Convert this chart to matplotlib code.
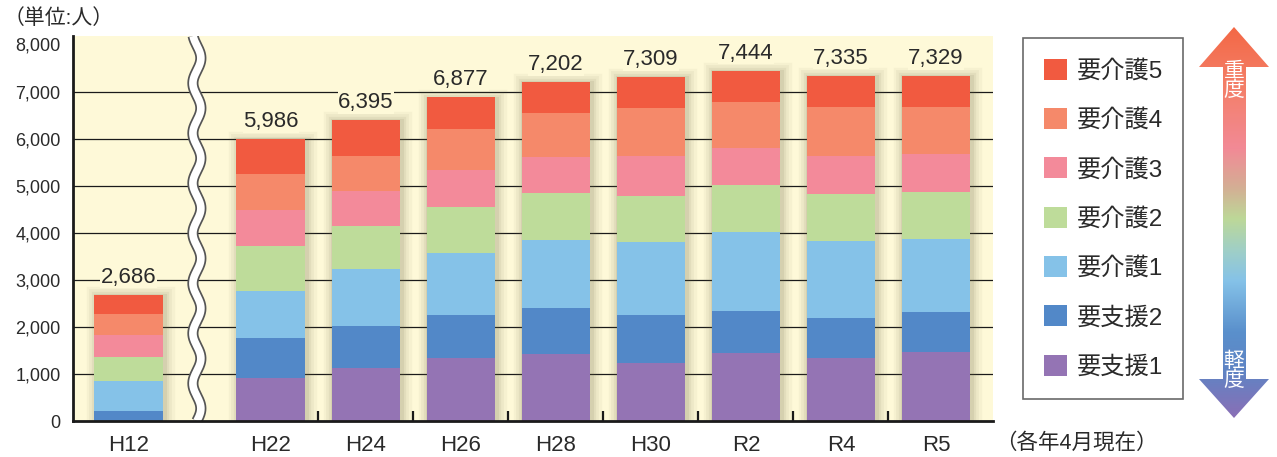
import numpy as np
import matplotlib
matplotlib.use('Agg')
import matplotlib.pyplot as plt
from matplotlib import font_manager
from matplotlib.patches import Polygon, Patch
from matplotlib.transforms import blended_transform_factory

plt.rcParams['font.family'] = ['Liberation Sans', 'Noto Sans CJK JP', 'DejaVu Sans']
installed = {f.name for f in font_manager.fontManager.ttflist}
num_font = 'Liberation Sans Narrow' if 'Liberation Sans Narrow' in installed else 'Liberation Sans'

# 要介護（要支援）認定者数
years = ['H12', 'H22', 'H24', 'H26', 'H28', 'H30', 'R2', 'R4', 'R5']
totals = [2686, 5986, 6395, 6877, 7202, 7309, 7444, 7335, 7329]
shien1 = [0, 920, 1125, 1345, 1423, 1231, 1444, 1338, 1465]
shien2 = [212, 842, 892, 906, 976, 1020, 891, 849, 849]
kaigo1 = [637, 998, 1210, 1316, 1444, 1549, 1678, 1635, 1550]
kaigo2 = [510, 955, 913, 977, 998, 977, 998, 998, 998]
kaigo3 = [467, 771, 743, 785, 764, 849, 785, 806, 807]
kaigo4 = [446, 758, 743, 871, 934, 1019, 977, 1041, 998]
kaigo5 = [414, 742, 769, 677, 663, 664, 671, 668, 662]
levels = ['要支援1', '要支援2', '要介護1', '要介護2', '要介護3', '要介護4', '要介護5']
yticks = [0, 1000, 2000, 3000, 4000, 5000, 6000, 7000, 8000]

colors = ['#9474b4', '#5288c8', '#85c2e8', '#bedc9a', '#f38a9a', '#f5896a', '#f15a40']
bg = '#fef9d8'

W, H = 1277, 457
fig = plt.figure(figsize=(W / 100, H / 100), dpi=100)
ax = fig.add_axes([73 / W, 1 - 421 / H, (993 - 73) / W, (421 - 36) / H])
ax.set_facecolor(bg)

# H12 stands alone, the rest are spaced 1 apart after the break
xpos = np.r_[0, np.arange(1.5, 9, 1)]
width = 0.726

ax.set_xlim(-0.584, 9.1)
ax.set_ylim(0, 8180)

# grid lines behind the bars
ax.hlines(yticks[1:-1], -0.584, 9.1, color='#1a1a1a', lw=0.9, zorder=1)

# soft shadow around each bar
for lw, a in [(14, 0.05), (10, 0.06), (6, 0.08), (3, 0.1)]:
    ax.bar(xpos + 0.02, totals, width, bottom=-30, color='none',
           edgecolor=(0.42, 0.40, 0.25, a), linewidth=lw, zorder=2)

series = [shien1, shien2, kaigo1, kaigo2, kaigo3, kaigo4, kaigo5]
bottom = np.zeros(len(years))
conts = []
for vals, c, name in zip(series, colors, levels):
    bc = ax.bar(xpos, vals, width, bottom=bottom, color=c, label=name, zorder=3)
    conts.append(bc)
    bottom += np.array(vals)

ax.bar_label(conts[-1], labels=[f'{t:,}' for t in totals], padding=5,
             fontsize=16, color='#2a2a2a', zorder=5, family=num_font,
             bbox=dict(facecolor=bg, edgecolor='none', pad=0.5))

# wavy break between H12 and H22
trans = blended_transform_factory(ax.transData, ax.transAxes)
t = np.linspace(0.0, 1.0, 600)
wx = 0.72 + 0.042 * np.sin(2 * np.pi * t / 0.13)
ax.plot(wx, t, color='#555555', lw=8, transform=trans, zorder=4, solid_capstyle='butt')
ax.plot(wx, t, color='white', lw=5.5, transform=trans, zorder=4, solid_capstyle='butt')

for s in ['top', 'right']:
    ax.spines[s].set_visible(False)
for s in ['left', 'bottom']:
    ax.spines[s].set_linewidth(2)
    ax.spines[s].set_color('#1a1a1a')
    ax.spines[s].set_zorder(6)

ax.set_yticks(yticks)
ax.set_yticklabels([f'{v:,}' for v in yticks], fontsize=13, color='#2a2a2a')
ax.set_xticks(xpos)
ax.set_xticklabels(years, fontsize=16, color='#2a2a2a')
ax.set_xticks(np.arange(2, 9), minor=True)
ax.tick_params(axis='y', length=0, pad=9)
ax.tick_params(axis='x', which='major', length=0, pad=10)
ax.tick_params(axis='x', which='minor', direction='in', length=7, width=1.6, color='#1a1a1a')

fig.text(4 / W, 1 - 18 / H, '（単位:人）', fontsize=15, color='#2a2a2a', va='center')
fig.text(995 / W, 1 - 443 / H, '（各年4月現在）', fontsize=15.5, color='#2a2a2a', va='center')

handles = [Patch(facecolor=c, edgecolor='none') for c in colors[::-1]]
leg = fig.legend(handles, levels[::-1], loc='upper left',
                 bbox_to_anchor=(1023 / W, 1 - 38 / H), borderaxespad=0,
                 fontsize=17.5, frameon=True, fancybox=False, edgecolor='#444444',
                 handlelength=0.95, handleheight=0.95, handletextpad=0.4,
                 labelspacing=1.05, borderpad=0.85, labelcolor='#2a2a2a')
leg.get_frame().set_linewidth(1.2)

# severity arrow with colour gradient
ov = fig.add_axes([0, 0, 1, 1], zorder=-1)
ov.set_xlim(0, W)
ov.set_ylim(H, 0)
ov.axis('off')
arrow_pts = [(1234, 27), (1269, 67), (1246, 67), (1246, 379), (1269, 379), (1234, 418),
             (1199, 379), (1223, 379), (1223, 67), (1199, 67)]
arrow = Polygon(arrow_pts, closed=True, facecolor='none', edgecolor='none')
ov.add_patch(arrow)
stops = [(0.0, '#f36846'), (0.15, '#f47f68'), (0.31, '#f28a96'), (0.41, '#d4ae94'),
         (0.49, '#bdd898'), (0.57, '#a0cfc6'), (0.65, '#85c2e8'), (0.78, '#5a90cc'),
         (0.88, '#5f84c4'), (1.0, '#8a6fb6')]
cmap = matplotlib.colors.LinearSegmentedColormap.from_list('sev', stops)
grad = np.linspace(0, 1, 256).reshape(-1, 1)
im = ov.imshow(grad, cmap=cmap, aspect='auto', extent=(1199, 1269, 418, 27), origin='upper')
im.set_clip_path(arrow)
ov.text(1234, 81, '重\n度', color='white', fontsize=15, ha='center', va='center', linespacing=1.0)
ov.text(1234, 371, '軽\n度', color='white', fontsize=15, ha='center', va='center', linespacing=1.0)

fig.savefig('out.png', dpi=100)
